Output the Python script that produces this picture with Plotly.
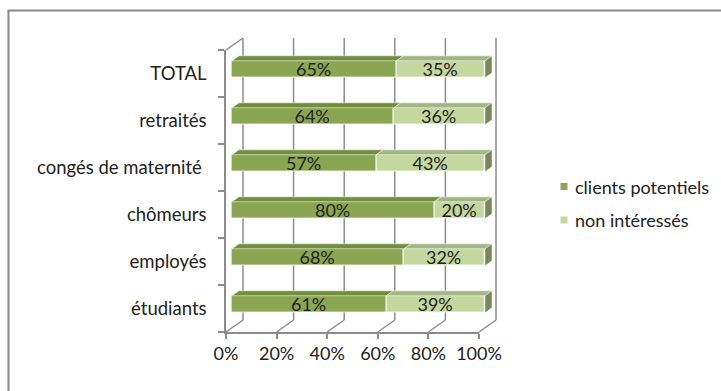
import plotly.graph_objects as go

# ---- data -------------------------------------------------------------
categories = ["étudiants", "employés", "chômeurs", "congés de maternité\u00a0", "retraités", "TOTAL"]
clients_potentiels = [61, 68, 80, 57, 64, 65]
non_interesses = [39, 32, 20, 43, 36, 35]
series_names = ["clients potentiels", "non intéressés"]
x_ticks = [0, 20, 40, 60, 80, 100]
x_tick_labels = ["0%", "20%", "40%", "60%", "80%", "100%"]

# ---- styling ----------------------------------------------------------
FONT = "Lato"
TXT = "#222222"
GRID = "#8c8c8c"
FRONT_COL = ["#8ba653", "#c4d79f"]   # front faces
TOP_COL = ["#718f3b", "#a3b585"]     # top faces
SIDE_COL = "#77885a"                 # right end face

W, H = 721, 391
# front plane of the 3-D box, in pixels
FX0, FX1 = 226, 479
FY_TOP, FY_BOT = 50, 332
N = len(categories)
PX = (FX1 - FX0) / 100.0          # pixels per percent
PY = (FY_BOT - FY_TOP) / N        # pixels per category band
DEPTH_X, DEPTH_Y = 17.0, 12.0     # box depth (to the right, upwards)
BAR_POS = 6.0 / 17.0              # depth fraction of the bar front faces
BAR_DEPTH = 7.0 / 17.0            # depth fraction taken by the bars
BAR_H = 17.0                      # bar thickness in pixels

# bar-plane origin in pixels
bx0 = FX0 + DEPTH_X * BAR_POS
by0 = FY_BOT - DEPTH_Y * BAR_POS
XR = [-12, 112]
YR = [-0.6, N + 0.6]


def px_to_units(dx_px, dy_up_px):
    return dx_px / PX, dy_up_px / PY


# offsets (bar-plane data units) of the front plane, the back wall and the bar depth
f_dx, f_dy = px_to_units(-DEPTH_X * BAR_POS, -DEPTH_Y * BAR_POS)
b_dx, b_dy = px_to_units(DEPTH_X * (1 - BAR_POS), DEPTH_Y * (1 - BAR_POS))
d_dx, d_dy = px_to_units(DEPTH_X * BAR_DEPTH, DEPTH_Y * BAR_DEPTH)
bar_w = BAR_H / PY

fig = go.Figure()

# front-plane axes carry the tick labels and axis lines
fig.add_trace(go.Scatter(x=[None], y=[None], xaxis="x", yaxis="y",
                         showlegend=False, hoverinfo="skip"))

ypos = [i + 0.5 for i in range(N)]
series = [clients_potentiels, non_interesses]
bases = [[0] * N, clients_potentiels]
for k, vals in enumerate(series):
    fig.add_trace(go.Bar(
        y=ypos, x=vals, base=bases[k], orientation="h", width=bar_w,
        xaxis="x2", yaxis="y2", name=series_names[k], showlegend=False,
        marker=dict(color=FRONT_COL[k], line=dict(color="rgba(255,255,255,0.85)", width=1)),
        text=[f"{v}%" for v in vals], textposition="inside",
        insidetextanchor="middle", textangle=0, constraintext="none",
        textfont=dict(family=FONT, size=18, color=TXT),
        hoverinfo="skip",
    ))

shapes = []
for v in x_ticks:
    # back wall gridlines
    shapes.append(dict(type="line", xref="x2", yref="y2", layer="below",
                       x0=v + b_dx, x1=v + b_dx, y0=0 + b_dy, y1=N + b_dy,
                       line=dict(color=GRID, width=1.5)))
    # floor edges
    shapes.append(dict(type="line", xref="x2", yref="y2", layer="below",
                       x0=v + f_dx, y0=0 + f_dy, x1=v + b_dx, y1=0 + b_dy,
                       line=dict(color=GRID, width=1.5)))
# left wall top edge
shapes.append(dict(type="line", xref="x2", yref="y2", layer="below",
                   x0=0 + f_dx, y0=N + f_dy, x1=0 + b_dx, y1=N + b_dy,
                   line=dict(color=GRID, width=1.5)))

# bar top faces and right end faces
for i in range(N):
    yt = ypos[i] + bar_w / 2
    yb = ypos[i] - bar_w / 2
    for k, vals in enumerate(series):
        x0 = bases[k][i]
        x1 = x0 + vals[i]
        shapes.append(dict(
            type="path", xref="x2", yref="y2", layer="above",
            path=f"M{x0},{yt} L{x1},{yt} L{x1 + d_dx},{yt + d_dy} L{x0 + d_dx},{yt + d_dy} Z",
            fillcolor=TOP_COL[k], line=dict(color="rgba(255,255,255,0.6)", width=0.8)))
    xe = clients_potentiels[i] + non_interesses[i]
    shapes.append(dict(
        type="path", xref="x2", yref="y2", layer="above",
        path=f"M{xe},{yb} L{xe},{yt} L{xe + d_dx},{yt + d_dy} L{xe + d_dx},{yb + d_dy} Z",
        fillcolor=SIDE_COL, line=dict(color="rgba(255,255,255,0.6)", width=0.8)))

# legend
LEG_X, LEG_Y0, LEG_STEP, LEG_SQ = 564, 186.5, 33.5, 7
annotations = []
for k, name in enumerate(series_names):
    cy = LEG_Y0 + k * LEG_STEP
    shapes.append(dict(type="rect", xref="paper", yref="paper",
                       x0=(LEG_X - LEG_SQ / 2) / W, x1=(LEG_X + LEG_SQ / 2) / W,
                       y0=(H - cy - LEG_SQ / 2) / H, y1=(H - cy + LEG_SQ / 2) / H,
                       fillcolor=FRONT_COL[k], line=dict(width=0)))
    annotations.append(dict(xref="paper", yref="paper", x=573 / W, y=(H - cy) / H,
                            xanchor="left", yanchor="middle", showarrow=False,
                            text=name, font=dict(family=FONT, size=18, color=TXT)))

# chart frame (top and left edges; the rest runs off the page)
FRAME_X, FRAME_Y = 8.5, 10.5
shapes.append(dict(type="line", xref="paper", yref="paper",
                   x0=(FRAME_X - 1) / W, x1=1, y0=(H - FRAME_Y) / H, y1=(H - FRAME_Y) / H,
                   line=dict(color="#888888", width=2)))
shapes.append(dict(type="line", xref="paper", yref="paper",
                   x0=FRAME_X / W, x1=FRAME_X / W, y0=0, y1=(H - FRAME_Y) / H,
                   line=dict(color="#888888", width=2)))

fig.update_layout(
    width=W, height=H,
    margin=dict(l=0, r=0, t=0, b=0, autoexpand=False),
    paper_bgcolor="white", plot_bgcolor="rgba(0,0,0,0)",
    barmode="overlay", bargap=0,
    showlegend=False,
    font=dict(family=FONT, size=18, color=TXT),
    shapes=shapes, annotations=annotations,
    xaxis=dict(domain=[FX0 / W, FX1 / W], range=[0, 100], anchor="y", automargin=False,
               showline=True, linecolor=GRID, linewidth=1.5,
               ticks="outside", ticklen=5, tickwidth=1.5, tickcolor=GRID,
               tickvals=x_ticks, ticktext=x_tick_labels,
               showgrid=False, zeroline=False, fixedrange=True,
               tickfont=dict(family=FONT, size=18, color=TXT)),
    yaxis=dict(domain=[(H - FY_BOT) / H, (H - FY_TOP) / H], range=[0, N], anchor="x",
               automargin=False,
               showline=True, linecolor=GRID, linewidth=1.5,
               ticks="", tickvals=ypos, ticktext=categories,
               minor=dict(tickvals=list(range(N + 1)), ticks="outside", ticklen=6,
                          tickwidth=1.5, tickcolor=GRID, showgrid=False),
               ticklabelstandoff=14,
               showgrid=False, zeroline=False, fixedrange=True,
               tickfont=dict(family=FONT, size=18.5, color=TXT)),
    xaxis2=dict(domain=[(bx0 + XR[0] * PX) / W, (bx0 + XR[1] * PX) / W],
                range=XR, anchor="y2", visible=False, fixedrange=True, automargin=False),
    yaxis2=dict(domain=[(H - (by0 - YR[0] * PY)) / H, (H - (by0 - YR[1] * PY)) / H],
                range=YR, anchor="x2", visible=False, fixedrange=True, automargin=False),
)

fig.write_html("out.html")
